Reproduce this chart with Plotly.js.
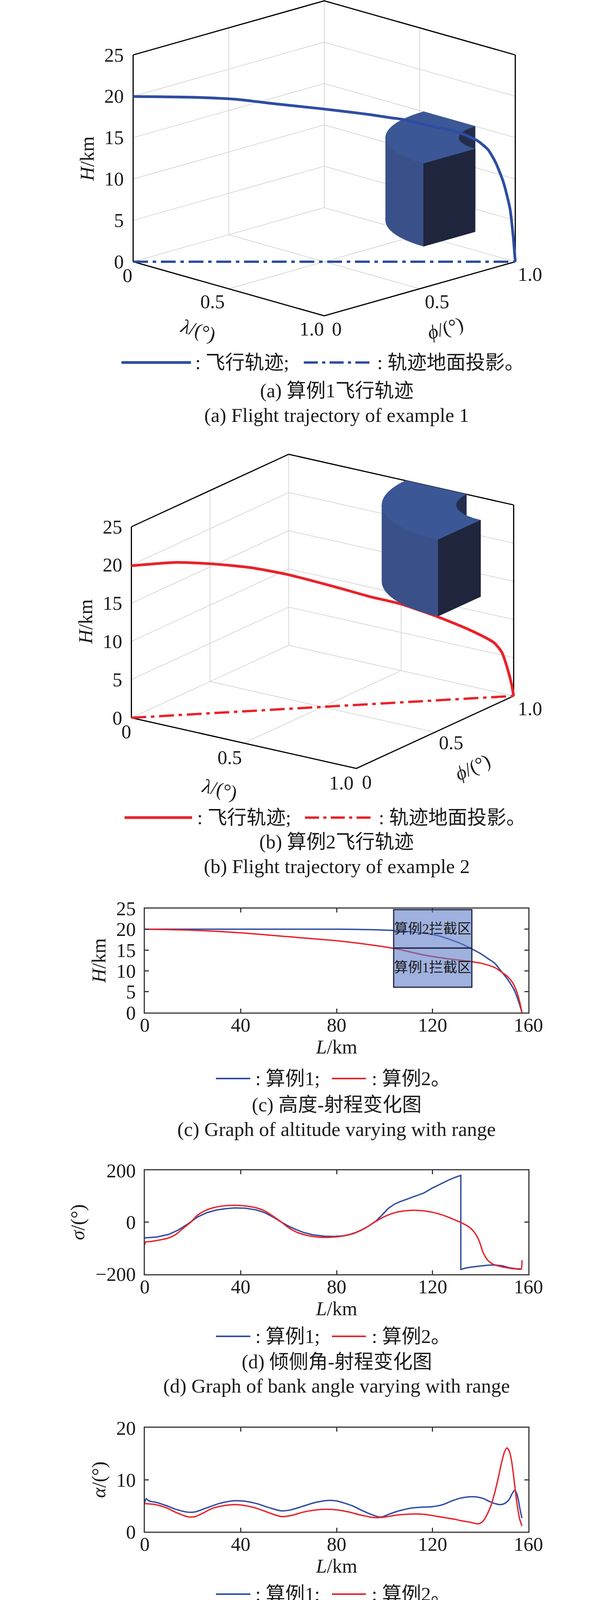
<!DOCTYPE html>
<html><head><meta charset="utf-8">
<script src="https://cdn.plot.ly/plotly-3.0.1.min.js"></script>
<style>html,body{margin:0;padding:0;background:#fff}</style>
</head><body>
<div id="chart" style="width:1575px;height:4906px"></div>
<script>
// ================= DATA =================
// 3D trajectories: ground track lambda = phi = t (deg), altitude H (km)
const traj1T = [0, 0.164, 0.267, 0.369, 0.495, 0.574, 0.622, 0.677, 0.704, 0.779, 0.826, 0.860, 0.901, 0.929, 0.949, 0.969, 0.986, 0.994, 1.0];
const traj1H = [19.97, 19.87, 19.64, 19.1, 18.48, 18.05, 17.77, 17.38, 17.22, 16.4, 15.96, 15.49, 14.63, 13.53, 11.95, 9.6, 6.45, 3.3, 0];
const traj2T = [0, 0.118, 0.210, 0.313, 0.412, 0.528, 0.631, 0.702, 0.80, 0.887, 0.9486, 0.969, 0.984, 0.995, 1.0];
const traj2H = [19.9, 20.0, 19.55, 18.75, 17.53, 15.69, 13.96, 12.93, 10.96, 8.92, 7.12, 5.81, 3.61, 1.43, 0];
// intercept zones (3D): quarter annulus around the target
const zoneCenter = [1, 1];
const zoneRadii = [0.21, 0.48];
const zone1H = [5, 15];
const zone2H = [15, 25];

// (c) altitude vs range
const altL1 = [0, 40, 80, 95, 104, 110, 117, 122, 127, 132, 136, 140.5, 143, 146, 148, 151.3, 154, 155.7, 157.3];
const altH1 = [20.0, 20.0, 20.0, 19.9, 19.7, 19.45, 19.0, 18.5, 17.6, 16.5, 15.4, 14.0, 13.0, 11.8, 10.4, 8.0, 5.5, 3.0, 0];
const altL2 = [0, 20, 40, 60, 80, 95, 104, 117.5, 126.6, 136, 140.5, 146, 148, 151.3, 153.5, 155.2, 156.3, 157.3];
const altH2 = [20.0, 19.75, 19.15, 18.2, 17.25, 16.2, 15.4, 13.7, 12.9, 12.25, 11.8, 10.8, 10.05, 8.65, 7.1, 4.9, 2.7, 0];
const zoneL = [103.8, 136.4];
const zone1Alt = [6.1, 15.5];
const zone2Alt = [15.5, 24.7];
const zoneNames = ['算例1拦截区', '算例2拦截区'];

// (d) bank angle vs range
const bankL1 = [0, 5, 10, 14, 18, 22, 26, 30, 34, 37.5, 42, 46.6, 50, 54, 57, 60, 63, 66, 70, 75, 79, 83, 87, 90, 93, 96.3, 99, 101.5, 104, 106, 110, 113, 116.5, 119.8, 123, 126.6, 129.5, 131.8, 131.8, 134, 137, 140.3, 143, 146, 149, 151.8, 154.5, 157.3];
const bank1 = [-60.6, -57, -47, -30, -6.7, 20, 37, 47, 52.5, 55, 54, 47, 37, 17, 0, -15.5, -28, -39, -48.5, -54, -55, -52.5, -44, -32, -17, 3.4, 28, 52.5, 68.7, 77.4, 91, 101, 113, 131, 146, 162, 173, 180.5, -182, -176.5, -172, -168, -166, -165, -168, -175, -179, -180.5];
const bankL2 = [0, 0.3, 2, 5, 10, 13, 16, 19.2, 22, 25, 28.3, 32, 37.5, 42, 46.6, 50, 54, 57, 60, 63, 66, 70, 74, 78, 82, 86, 90, 93, 95.8, 99, 102, 106, 110, 113, 117, 122, 126, 129, 132.3, 135, 137, 138.5, 139.8, 141, 142.6, 144, 146, 149, 151.8, 154.5, 156.9, 157.3];
const bank2 = [-87.5, -77, -75, -70.7, -60.6, -47, -23.6, 0, 27, 43.8, 55, 62, 65.3, 62.6, 55, 43.8, 20, 0, -21.5, -37, -47, -55, -58.6, -58, -54, -45.8, -31.6, -16.8, 0, 16.8, 29.6, 40.4, 45, 45.8, 43, 33.7, 21.5, 10, -3.4, -16.8, -33.7, -54, -81, -114.5, -141.4, -155, -165, -172.4, -177, -179.8, -180.5, -146.8];

// (e) angle of attack vs range
const aoaL1 = [0, 0.6, 1.6, 5, 9, 13, 18, 21, 26, 31, 37.5, 42, 46.6, 52, 57, 61, 66, 71, 76.3, 80, 83.2, 87, 90, 94, 97, 99, 101.5, 106, 110.6, 115, 119.8, 124.3, 128, 131.2, 135, 138, 141, 143.8, 146, 148.3, 150, 151.8, 153.2, 154.3, 155.2, 155.8, 156.5, 157.3];
const aoa1 = [5.6, 6.35, 5.95, 5.6, 5.0, 4.3, 3.75, 3.8, 4.6, 5.4, 5.95, 5.85, 5.4, 4.6, 4.0, 4.2, 4.9, 5.6, 6.0, 5.9, 5.5, 4.9, 4.2, 3.4, 2.9, 2.85, 3.3, 4.0, 4.5, 4.7, 4.8, 5.2, 5.9, 6.4, 6.7, 6.7, 6.4, 5.8, 5.4, 5.2, 5.4, 6.1, 7.3, 8.0, 7.2, 6.1, 4.3, 2.6];
const aoaL2 = [0, 4, 9, 13, 18, 21, 24, 28.3, 33, 37.5, 42, 46.6, 52, 57, 61, 66, 71, 75.2, 80, 85, 90, 95.8, 100, 103.8, 108, 113, 117, 121, 125, 129, 132, 135.8, 139.2, 141, 142.6, 144.5, 146, 147.5, 148.9, 150, 151, 152, 152.9, 154, 155.2, 156.3, 157.3];
const aoa2 = [5.4, 5.25, 4.6, 3.7, 2.85, 2.9, 3.5, 4.5, 5.0, 5.2, 5.0, 4.5, 3.6, 2.9, 3.1, 3.75, 4.15, 4.3, 4.2, 3.8, 3.2, 2.7, 2.8, 3.1, 3.3, 3.4, 3.3, 3.0, 2.7, 2.4, 2.1, 1.8, 1.5, 2.0, 3.15, 5.2, 7.6, 10.5, 13.5, 15.3, 16.1, 15.5, 13.8, 10, 5.5, 2.5, 1.1];

// (f) overload vs range
const loadL1 = [0, 0.4, 1.2, 5, 9, 13, 18, 21, 26, 31, 37.5, 42, 46.6, 52, 57, 61, 66, 71, 76.3, 80, 83.2, 87, 90, 94, 98, 101, 106, 112, 118, 124, 129, 134, 138, 142, 146, 148, 149.5, 151, 152.3, 153.5, 154.6, 155.3, 156, 156.8, 157.3];
const load1 = [1.95, 2.15, 1.87, 1.75, 1.55, 1.25, 0.93, 0.97, 1.3, 1.55, 1.68, 1.65, 1.52, 1.2, 0.95, 1.0, 1.2, 1.38, 1.42, 1.4, 1.27, 1.05, 0.82, 0.6, 0.5, 0.58, 0.8, 0.98, 1.05, 1.25, 1.8, 2.25, 2.56, 2.85, 3.0, 3.3, 3.8, 4.8, 6.2, 7.4, 8.2, 7.9, 7.1, 5.0, 3.35];
const loadL2 = [0, 5, 9, 13, 18, 21, 26, 31, 37.5, 42, 46.6, 52, 56.3, 61, 66, 71, 76.3, 80, 83.2, 88, 95.8, 100, 103.8, 108, 113, 117, 121, 126, 130, 135.8, 139.2, 140.5, 142.6, 144.5, 146, 147.5, 148.9, 150, 151.2, 152.3, 153.5, 155, 156.2, 157.3];
const load2 = [1.68, 1.55, 1.34, 1.0, 0.6, 0.65, 1.0, 1.35, 1.57, 1.52, 1.34, 0.98, 0.73, 0.8, 1.07, 1.25, 1.34, 1.3, 1.19, 1.0, 0.79, 0.82, 0.96, 1.1, 1.19, 1.17, 1.07, 0.95, 0.85, 0.61, 0.46, 0.6, 1.19, 2.4, 4.1, 5.5, 6.7, 7.4, 7.85, 7.3, 5.9, 3.6, 2.0, 0.96];

// ticks
const xTicks = [0, 40, 80, 120, 160];
const degTicks = [0, 0.5, 1];
const degTickText = ['0', '0.5', '1.0'];
const hTicks = [0, 5, 10, 15, 20, 25];

// text
const legend3D = [': 飞行轨迹;', ': 轨迹地面投影。'];
const legend2D = [': 算例1;', ': 算例2。'];
const captions = [
  ['(a) 算例1飞行轨迹', '(a) Flight trajectory of example 1'],
  ['(b) 算例2飞行轨迹', '(b) Flight trajectory of example 2'],
  ['(c) 高度-射程变化图', '(c) Graph of altitude varying with range'],
  ['(d) 倾侧角-射程变化图', '(d) Graph of bank angle varying with range'],
  ['(e) 攻角-射程变化图', '(e) Graph of angle of attack varying with range'],
  ['(f) 过载-射程变化图', '(f) Graph of overload varying with range']
];

// ================= STYLE =================
const BLUE = '#2E4DA2', RED = '#E8232B';
const SERIF = '"Liberation Serif","Times New Roman",serif';
const MIXED = '"Liberation Serif","Noto Sans CJK SC",serif';
const W = 1575, HT = 4906;
const px = v => v / W, py = v => 1 - v / HT;
const tickFont = { family: SERIF, size: 50, color: '#1a1a1a' };
const zoneColors = { side: '#3A5089', top: '#3B5795', inner: '#252D4D', cap: '#1F253D' };
const GRID = '#d9d9d9';

// ================= 3D VIEWS (orthographic projection onto a pixel-unit 2D axis) =================
function makeView(o) {
  const t = o.azimuth * Math.PI / 180, e = o.elevation * Math.PI / 180;
  return {
    o,
    ex: [o.scale * Math.cos(t), o.scale * Math.sin(t) * Math.sin(e)],
    ey: [o.scale * Math.sin(t), -o.scale * Math.cos(t) * Math.sin(e)],
    ez: -o.zScale * Math.cos(e) / o.hRange,
    vh: [Math.sin(t), -Math.cos(t)]
  };
}
const views = [
  makeView({ origin: [341, 670], azimuth: 45, elevation: 16.44, scale: 692, zScale: 552, hRange: 25 }),
  makeView({ origin: [336.5, 1837.5], azimuth: 34.95, elevation: 18.78, scale: 703, zScale: 516.5, hRange: 25 })
];
function proj(v, l, f, h) {
  return [v.o.origin[0] + l * v.ex[0] + f * v.ey[0], v.o.origin[1] + l * v.ex[1] + f * v.ey[1] + h * v.ez];
}
function polyline(v, pts) {
  const p = pts.map(q => proj(v, q[0], q[1], q[2]));
  return { x: p.map(q => q[0]), y: p.map(q => q[1]) };
}
const data = [];
const annotations = [];
const shapes = [];
function addLine(v, pts, line) {
  data.push(Object.assign({ type: 'scatter', mode: 'lines', xaxis: 'x9', yaxis: 'y9', hoverinfo: 'skip', showlegend: false, line }, polyline(v, pts)));
}
function addPoly(v, pts, color) {
  data.push(Object.assign({ type: 'scatter', mode: 'lines', xaxis: 'x9', yaxis: 'y9', hoverinfo: 'skip', showlegend: false,
    fill: 'toself', fillcolor: color, line: { color, width: 1 } }, polyline(v, pts.concat([pts[0]]))));
}
function drawBox(v) {
  const g = { color: GRID, width: 2 }, k = { color: '#000', width: 3 };
  addLine(v, [[0.5, 0, 0], [0.5, 1, 0]], g);
  addLine(v, [[0, 0.5, 0], [1, 0.5, 0]], g);
  addLine(v, [[0, 0, 0], [0, 1, 0], [1, 1, 0]], g);
  addLine(v, [[0, 0.5, 0], [0, 0.5, 25]], g);
  addLine(v, [[0, 1, 0], [0, 1, 25]], g);
  addLine(v, [[0.5, 1, 0], [0.5, 1, 25]], g);
  hTicks.slice(1, -1).forEach(h => addLine(v, [[0, 0, h], [0, 1, h], [1, 1, h]], g));
  addLine(v, [[0, 0, 0], [0, 0, 25]], k);
  addLine(v, [[1, 1, 0], [1, 1, 25]], k);
  addLine(v, [[0, 0, 25], [0, 1, 25], [1, 1, 25]], k);
  addLine(v, [[0, 0, 0], [1, 0, 0], [1, 1, 0]], k);
}
function drawZone(v, hr) {
  const n = 90, ang = [];
  for (let s = 0; s <= n; s++) ang.push(Math.PI + (s / n) * Math.PI / 2);
  const pt = (r, a, h) => [zoneCenter[0] + r * Math.cos(a), zoneCenter[1] + r * Math.sin(a), h];
  const facing = a => Math.cos(a) * v.vh[0] + Math.sin(a) * v.vh[1];
  const band = (r, list, col) => {
    if (list.length < 2) return;
    const pts = list.map(a => pt(r, a, hr[0])).concat(list.slice().reverse().map(a => pt(r, a, hr[1])));
    addPoly(v, pts, col);
  };
  band(zoneRadii[0], ang.filter(a => facing(a) <= 0.001), zoneColors.inner);
  addPoly(v, ang.map(a => pt(zoneRadii[1], a, hr[1])).concat(ang.slice().reverse().map(a => pt(zoneRadii[0], a, hr[1]))), zoneColors.top);
  band(zoneRadii[1], ang.filter(a => facing(a) >= -0.001), zoneColors.side);
  const aEnd = ang[n];
  addPoly(v, [pt(zoneRadii[1], aEnd, hr[0]), pt(zoneRadii[0], aEnd, hr[0]), pt(zoneRadii[0], aEnd, hr[1]), pt(zoneRadii[1], aEnd, hr[1])], zoneColors.cap);
}
function drawTraj(v, t, h, color) {
  addLine(v, t.map((q, i) => [q, q, h[i]]), { color, width: 7, shape: 'spline', smoothing: 0.6 });
}
function drawGround(v, t, color) {
  addLine(v, [t[0], t[t.length - 1]].map(q => [q, q, 0]), { color, width: 6, dash: '38px,12px,9px,12px' });
}
function label(v, l, f, h, dx, dy, text, angle, xanchor) {
  const p = proj(v, l, f, h);
  annotations.push({ xref: 'x9', yref: 'y9', x: p[0] + dx, y: p[1] + dy, text, showarrow: false, textangle: angle || 0,
    xanchor: xanchor || 'center', yanchor: 'middle', font: tickFont });
}
function drawLabels(v, L) {
  hTicks.forEach(h => label(v, 0, 0, h, -22, 0, String(h), 0, 'right'));
  degTicks.forEach((d, i) => label(v, d, 0, 0, L.lam[i][0], L.lam[i][1], degTickText[i]));
  degTicks.forEach((d, i) => label(v, 1, d, 0, L.phi[i][0], L.phi[i][1], degTickText[i]));
  annotations.push({ xref: 'x9', yref: 'y9', x: L.hT[0], y: L.hT[1], text: '<i>H</i>/km', textangle: -90, showarrow: false, font: tickFont });
  annotations.push({ xref: 'x9', yref: 'y9', x: L.lT[0], y: L.lT[1], text: '<i>λ</i>/(°)', textangle: L.lT[2], showarrow: false, font: tickFont });
  annotations.push({ xref: 'x9', yref: 'y9', x: L.pT[0], y: L.pT[1], text: '<i>ϕ</i>/(°)', textangle: L.pT[2], showarrow: false, font: tickFont });
}

// panel (a)
drawBox(views[0]);
drawGround(views[0], traj1T, BLUE);
drawZone(views[0], zone1H);
drawTraj(views[0], traj1T, traj1H, BLUE);
drawLabels(views[0], { lam: [[-15, 35], [-41, 33], [-32, 34]], phi: [[32, 34], [45, 33], [38, 32]],
  hT: [223, 407], lT: [507, 845, 16], pT: [1140, 840, -16] });
// panel (b)
drawBox(views[1]);
drawGround(views[1], traj2T, RED);
drawTraj(views[1], traj2T, traj2H, RED);
drawZone(views[1], zone2H);
drawLabels(views[1], { lam: [[-13, 35], [-36, 37], [-38, 37]], phi: [[27, 35], [41, 27], [42, 32]],
  hT: [219, 1592], lT: [562, 2020, 13], pT: [1210, 1964, -25] });

// ================= 2D PANELS =================
function line2d(xa, ya, xs, ys, color, shape) {
  data.push({ type: 'scatter', mode: 'lines', xaxis: xa, yaxis: ya, x: xs, y: ys, hoverinfo: 'skip', showlegend: false,
    line: { color, width: 3.5, shape: shape || 'spline', smoothing: 0.8 } });
}
line2d('x', 'y', altL1, altH1, BLUE); line2d('x', 'y', altL2, altH2, RED);
line2d('x2', 'y2', bankL1, bank1, BLUE, 'linear'); line2d('x2', 'y2', bankL2, bank2, RED);
line2d('x3', 'y3', aoaL1, aoa1, BLUE); line2d('x3', 'y3', aoaL2, aoa2, RED);
line2d('x4', 'y4', loadL1, load1, BLUE); line2d('x4', 'y4', loadL2, load2, RED);

const layout = {
  width: W, height: HT, margin: { l: 0, r: 0, t: 0, b: 0 },
  paper_bgcolor: '#fff', plot_bgcolor: 'rgba(0,0,0,0)', showlegend: false,
  font: { family: MIXED, color: '#1a1a1a' },
  xaxis9: { domain: [0, 1], range: [0, W], visible: false, fixedrange: true, anchor: 'y9' },
  yaxis9: { domain: [0, 1], range: [HT, 0], visible: false, fixedrange: true, anchor: 'x9' },
  shapes, annotations
};

const axBase = {
  showline: true, linecolor: '#3a3a3a', linewidth: 3, mirror: 'ticks',
  ticks: 'inside', ticklen: 10, tickwidth: 3, tickcolor: '#3a3a3a',
  showgrid: false, zeroline: false, tickfont: tickFont, fixedrange: true
};
const xDom = [px(370.7), px(1353.3)];
const panels2D = [
  { n: '', top: 2325.5, bot: 2592.3, range: [0, 25], ticks: hTicks, title: '<i>H</i>/km' },
  { n: '2', top: 2996, bot: 3261.6, range: [-200, 200], ticks: [-200, 0, 200], title: '<i>σ</i>/(°)' },
  { n: '3', top: 3655, bot: 3921, range: [0, 20], ticks: [0, 10, 20], title: '<i>α</i>/(°)' },
  { n: '4', top: 4315, bot: 4581.5, range: [0, 10], ticks: [0, 5, 10], title: '<i>N</i>' }
];
panels2D.forEach(p => {
  layout['xaxis' + p.n] = Object.assign({}, axBase, {
    domain: xDom, anchor: 'y' + p.n, range: [0, 160], tickvals: xTicks, ticklabelstandoff: -14,
    title: { text: '<i>L</i>/km', font: tickFont, standoff: 4 }
  });
  layout['yaxis' + p.n] = Object.assign({}, axBase, {
    domain: [py(p.bot), py(p.top)], anchor: 'x' + p.n, range: p.range, tickvals: p.ticks, ticklabelstandoff: 10,
    title: { text: p.title, font: tickFont, standoff: 12 }
  });
});

// intercept-zone boxes in (c)
[[zone1Alt, zoneNames[0]], [zone2Alt, zoneNames[1]]].forEach(([alt, name]) => {
  shapes.push({ type: 'rect', xref: 'x', yref: 'y', x0: zoneL[0], x1: zoneL[1], y0: alt[0], y1: alt[1],
    fillcolor: 'rgba(95,125,200,0.6)', line: { color: '#1C2444', width: 3 }, layer: 'above' });
  annotations.push({ xref: 'x', yref: 'y', x: (zoneL[0] + zoneL[1]) / 2, y: (alt[0] + alt[1]) / 2, text: name,
    showarrow: false, font: { family: MIXED, size: 36, color: '#1a1a1a' } });
});

// legends: sample line + text
function legendRow(yPx, items) {
  items.forEach(it => {
    shapes.push({ type: 'line', xref: 'paper', yref: 'paper', x0: px(it.x0), x1: px(it.x1), y0: py(yPx), y1: py(yPx),
      line: { color: it.color, width: it.width, dash: it.dash || 'solid' } });
    annotations.push({ xref: 'paper', yref: 'paper', x: px(it.tx), y: py(yPx), xanchor: 'left', yanchor: 'middle',
      text: it.text, showarrow: false, font: { family: MIXED, size: 50, color: '#1a1a1a' } });
  });
}
const DD = '36px,11px,8px,11px';
legendRow(928, [
  { x0: 311, x1: 489, color: BLUE, width: 7, tx: 498, text: legend3D[0] },
  { x0: 778, x1: 954, color: BLUE, width: 6, dash: DD, tx: 964, text: legend3D[1] }
]);
legendRow(2093, [
  { x0: 319, x1: 492, color: RED, width: 7, tx: 503, text: legend3D[0] },
  { x0: 781, x1: 959, color: RED, width: 6, dash: DD, tx: 968, text: legend3D[1] }
]);
[2761, 3421, 4081, 4742].forEach(yv => legendRow(yv, [
  { x0: 553, x1: 641, color: BLUE, width: 4, tx: 652, text: legend2D[0] },
  { x0: 850, x1: 937, color: RED, width: 4, tx: 950, text: legend2D[1] }
]));

// captions
const capY = [[1000, 1063], [2155, 2218], [2828, 2891], [3486, 3548], [4150, 4211], [4811, 4874]];
captions.forEach((c, idx) => {
  annotations.push({ xref: 'paper', yref: 'paper', x: px(862), y: py(capY[idx][0]), xanchor: 'center', yanchor: 'middle',
    text: c[0], showarrow: false, font: { family: MIXED, size: 50, color: '#1a1a1a' } });
  annotations.push({ xref: 'paper', yref: 'paper', x: px(862), y: py(capY[idx][1]), xanchor: 'center', yanchor: 'middle',
    text: c[1], showarrow: false, font: { family: SERIF, size: 51, color: '#1a1a1a' } });
});

Plotly.newPlot('chart', data, layout, { staticPlot: true, displayModeBar: false });
</script>
</body></html>
